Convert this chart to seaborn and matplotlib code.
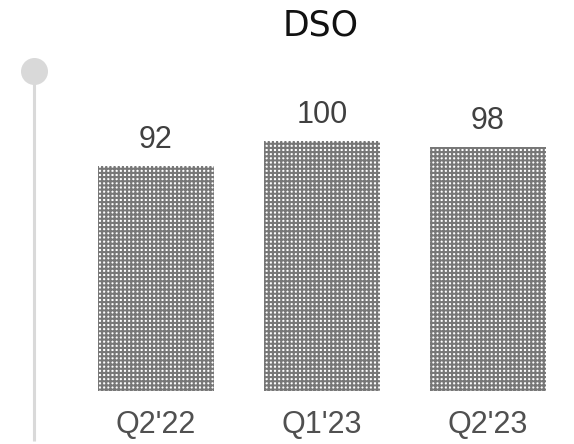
import matplotlib
matplotlib.use("Agg")
import matplotlib.pyplot as plt
import seaborn as sns
import pandas as pd

# data
quarters = ["Q2'22", "Q1'23", "Q2'23"]
dso_days = [92, 100, 98]

sns.set_style("white")
plt.rcParams["hatch.linewidth"] = 1.5

df = pd.DataFrame({"quarter": quarters, "dso": dso_days})

fig = plt.figure(figsize=(5.74, 4.44), dpi=100)
# axis starts at 20, bars bottom at ~391px
ax = fig.add_axes([73 / 574, 53 / 444, 498 / 574, 312.5 / 444])

sns.barplot(data=df, x="quarter", y="dso", width=0.7, color="white", ax=ax)
for bar in ax.patches:
    bar.set_facecolor("white")
    bar.set_edgecolor("#777777")
    bar.set_hatch("++++")
    bar.set_linewidth(0)

for i, v in enumerate(dso_days):
    ax.text(i, v + 5.8, str(v), ha="center", va="baseline", fontsize=22,
            color="#404040", family="Liberation Sans")

ax.set_ylim(20, 120)
ax.set_xlim(-0.5, 2.5)
ax.set_xlabel("")
ax.set_ylabel("")
ax.set_yticks([])
ax.tick_params(axis="x", length=0, pad=13.5)
for lbl in ax.get_xticklabels():
    lbl.set_fontsize(22)
    lbl.set_color("#505050")
    lbl.set_family("Liberation Sans")
sns.despine(ax=ax, left=True, bottom=True)

# decorative timeline on the left
deco = fig.add_axes([0, 0, 1, 1], zorder=-1)
deco.set_xlim(0, 574)
deco.set_ylim(444, 0)
deco.axis("off")
deco.plot([34, 34], [71, 441], color="#d9d9d9", lw=2.2, solid_capstyle="butt")
deco.scatter([34], [71], s=378, color="#d9d9d9", linewidths=0)

fig.text(321 / 574, 1 - 25.5 / 444, "DSO", ha="center", va="center",
         fontsize=25, color="#111111", family="DejaVu Sans")

fig.savefig("out.png", dpi=100)
